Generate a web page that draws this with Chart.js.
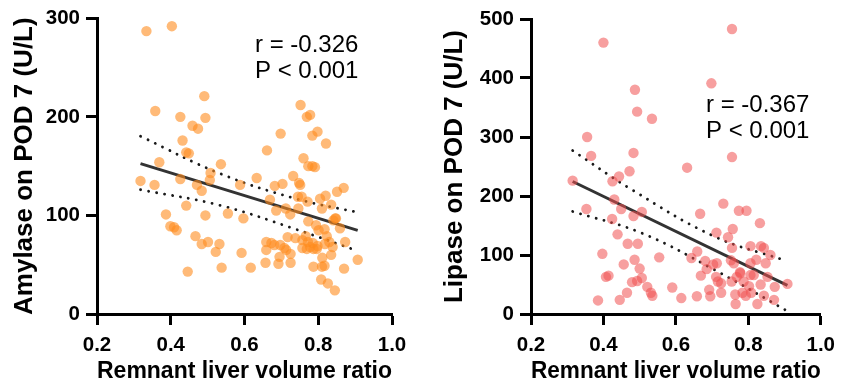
<!DOCTYPE html>
<html>
<head>
<meta charset="utf-8">
<script src="https://cdn.jsdelivr.net/npm/chart.js@4"></script>
<style>
  body { margin: 0; background: #fff; }
  .panel { position: absolute; top: 0; }
</style>
</head>
<body>
<div class="panel" style="left:0"><canvas id="amylaseChart" width="420" height="392"></canvas></div>
<div class="panel" style="left:425px"><canvas id="lipaseChart" width="418" height="392"></canvas></div>
<script>
// ---- data ----
const xTicks = [0.2, 0.4, 0.6, 0.8, 1.0];
const amylaseTicks = [0, 100, 200, 300];
const lipaseTicks = [0, 100, 200, 300, 400, 500];

const amylaseRatio = [0.334,0.403,0.491,0.358,0.426,0.494,0.459,0.474,0.432,0.442,0.449,0.369,0.536,0.508,0.506,0.426,0.318,0.356,0.471,0.484,
  0.588,0.633,0.442,0.387,0.494,0.555,0.597,0.399,0.409,0.416,0.467,0.484,0.501,0.532,0.522,0.446,0.538,0.592,0.617,0.661,
  0.698,0.752,0.769,0.778,0.784,0.798,0.821,0.760,0.773,0.784,0.791,0.682,0.703,0.732,0.748,0.751,0.669,0.686,0.712,0.724,
  0.745,0.755,0.771,0.746,0.805,0.820,0.810,0.835,0.851,0.869,0.846,0.773,0.794,0.801,0.817,0.823,0.859,0.841,0.717,0.738,
  0.757,0.766,0.772,0.785,0.796,0.818,0.830,0.839,0.659,0.673,0.681,0.697,0.708,0.713,0.659,0.695,0.725,0.757,0.769,0.778,
  0.787,0.798,0.811,0.835,0.873,0.657,0.692,0.725,0.787,0.810,0.817,0.870,0.907,0.808,0.826,0.845,0.848];
const amylaseLevel = [287,292,221,206,200,199,191,188,176,164,163,154,152,143,136,137,135,131,131,125,
  131,138,110,101,100,102,97,89,88,85,79,71,73,71,63,43,47,62,47,166,
  183,212,200,202,181,185,173,158,150,150,149,130,132,140,133,131,116,105,107,101,
  119,119,114,107,117,120,107,111,124,128,97,94,90,85,86,79,87,95,78,77,
  75,79,73,72,66,71,73,68,73,72,70,70,67,65,65,58,61,67,66,68,
  66,69,57,60,73,52,51,52,48,48,49,46,55,35,31,24,97];

const amylaseFitX = [0.318, 0.907];
const amylaseFitY = [152.5, 84.9];
const amylaseUpperX = [0.318, 0.534, 0.742, 0.907];
const amylaseUpperY = [180.3, 142.4, 116.7, 103.1];
const amylaseLowerX = [0.318, 0.534, 0.742, 0.907];
const amylaseLowerY = [126.1, 110.2, 85.6, 64.0];

const lipaseRatio = [0.400,0.755,0.698,0.487,0.493,0.534,0.355,0.366,0.483,0.755,0.631,0.472,0.443,0.425,0.315,0.430,0.449,0.353,0.506,0.483,
  0.424,0.439,0.467,0.495,0.397,0.554,0.486,0.500,0.456,0.407,0.414,0.479,0.493,0.506,0.521,0.531,0.535,0.465,0.445,0.385,
  0.590,0.615,0.658,0.667,0.731,0.774,0.795,0.832,0.712,0.757,0.744,0.755,0.659,0.643,0.681,0.713,0.703,0.685,0.669,0.711,
  0.725,0.716,0.692,0.695,0.725,0.752,0.760,0.768,0.777,0.787,0.806,0.835,0.843,0.861,0.822,0.848,0.806,0.806,0.815,0.834,
  0.853,0.873,0.908,0.802,0.784,0.764,0.793,0.808,0.843,0.871,0.825,0.765,0.778,0.754];
const lipaseLevel = [460,483,391,380,343,331,300,268,273,266,248,242,233,225,226,194,178,178,173,166,
  161,135,119,119,102,96,92,77,84,63,65,54,56,61,46,36,31,36,24,23,
  45,27,30,170,187,175,175,154,138,144,130,112,106,95,90,86,84,76,65,63,
  52,55,41,30,36,91,86,63,71,55,115,115,112,100,92,86,86,66,66,50,
  63,46,51,47,36,33,31,36,31,24,17,17,69,55];

const lipaseFitX = [0.315, 0.908];
const lipaseFitY = [224.6, 48.5];
const lipaseUpperX = [0.315, 0.479, 0.706, 0.895];
const lipaseUpperY = [277, 210.5, 131.5, 92];
const lipaseLowerX = [0.315, 0.506, 0.706, 0.906];
const lipaseLowerY = [173.8, 137, 75, 5.6];

// ---- helpers ----
const FONT = "'Liberation Sans', Arial, sans-serif";
const toXY = (xs, ys) => xs.map((x, i) => ({ x: x, y: ys[i] }));

// r / P annotation
const statsLabel = {
    id: 'statsLabel',
    afterDraw(chart, args, opts) {
        const ctx = chart.ctx;
        ctx.save();
        ctx.fillStyle = '#000';
        ctx.font = '24px ' + FONT;
        ctx.textBaseline = 'alphabetic';
        ctx.textAlign = 'left';
        opts.lines.forEach((t, i) => ctx.fillText(t, opts.x, opts.y + i * 26));
        ctx.restore();
    }
};

function axisCommon(pad) {
    return {
        border: { display: true, color: '#000', width: 3 },
        grid: { drawOnChartArea: false, drawTicks: true, tickLength: 11, tickWidth: 3, tickColor: '#000' },
        ticks: { color: '#000', padding: pad, font: { family: FONT, size: 20.5, weight: 'bold' } }
    };
}

function bandSet(xs, ys) {
    return {
        type: 'line',
        data: toXY(xs, ys),
        borderColor: '#1a1a1a',
        borderWidth: 2.8,
        borderDash: [0.1, 8],
        borderCapStyle: 'round',
        tension: 0.4,
        pointRadius: 0,
        fill: false
    };
}

function buildChart(id, cfg) {
    return new Chart(document.getElementById(id), {
        type: 'scatter',
        data: {
            datasets: [
                {
                    data: toXY(cfg.px, cfg.py),
                    backgroundColor: cfg.color,
                    borderWidth: 0,
                    pointRadius: 5.2,
                    pointHoverRadius: 5.2
                },
                {
                    type: 'line',
                    data: toXY(cfg.fitX, cfg.fitY),
                    borderColor: '#333',
                    borderWidth: 3,
                    pointRadius: 0,
                    fill: false
                },
                bandSet(cfg.upX, cfg.upY),
                bandSet(cfg.loX, cfg.loY)
            ]
        },
        options: {
            responsive: false,
            animation: false,
            devicePixelRatio: 1,
            layout: { padding: { left: 0, top: cfg.top, right: cfg.right, bottom: 0 } },
            plugins: {
                legend: { display: false },
                tooltip: { enabled: false },
                statsLabel: cfg.stats
            },
            scales: {
                x: Object.assign(axisCommon(8), {
                    type: 'linear',
                    min: 0.2, max: 1.0,
                    afterBuildTicks: s => { s.ticks = xTicks.map(v => ({ value: v })); },
                    afterFit: s => { s.height = 392 - 314; },
                    title: {
                        display: true, text: 'Remnant liver volume ratio', color: '#000',
                        font: { family: FONT, size: 24, weight: 'bold' },
                        padding: { top: 0, bottom: 6 }
                    }
                }),
                y: Object.assign(axisCommon(6), {
                    type: 'linear',
                    min: 0, max: cfg.yMax,
                    afterBuildTicks: s => { s.ticks = cfg.yTicks.map(v => ({ value: v })); },
                    afterFit: s => { s.width = cfg.left; },
                    title: {
                        display: true, text: cfg.yTitle, color: '#000',
                        font: { family: FONT, size: 26, weight: 'bold' },
                        padding: { top: cfg.titlePad, bottom: 0 }
                    }
                })
            }
        },
        plugins: [statsLabel]
    });
}

buildChart('amylaseChart', {
    px: amylaseRatio, py: amylaseLevel,
    fitX: amylaseFitX, fitY: amylaseFitY,
    upX: amylaseUpperX, upY: amylaseUpperY,
    loX: amylaseLowerX, loY: amylaseLowerY,
    color: 'rgba(255, 140, 30, 0.6)',
    yMax: 300, yTicks: amylaseTicks,
    yTitle: 'Amylase on POD 7 (U/L)',
    left: 97, top: 18, right: 28, titlePad: 9.5,
    stats: { x: 255, y: 52, lines: ['r = -0.326', 'P < 0.001'] }
});

buildChart('lipaseChart', {
    px: lipaseRatio, py: lipaseLevel,
    fitX: lipaseFitX, fitY: lipaseFitY,
    upX: lipaseUpperX, upY: lipaseUpperY,
    loX: lipaseLowerX, loY: lipaseLowerY,
    color: 'rgba(240, 80, 80, 0.55)',
    yMax: 500, yTicks: lipaseTicks,
    yTitle: 'Lipase on POD 7 (U/L)',
    left: 106, top: 19, right: 19, titlePad: 14,
    stats: { x: 281, y: 112, lines: ['r = -0.367', 'P < 0.001'] }
});
</script>
</body>
</html>
